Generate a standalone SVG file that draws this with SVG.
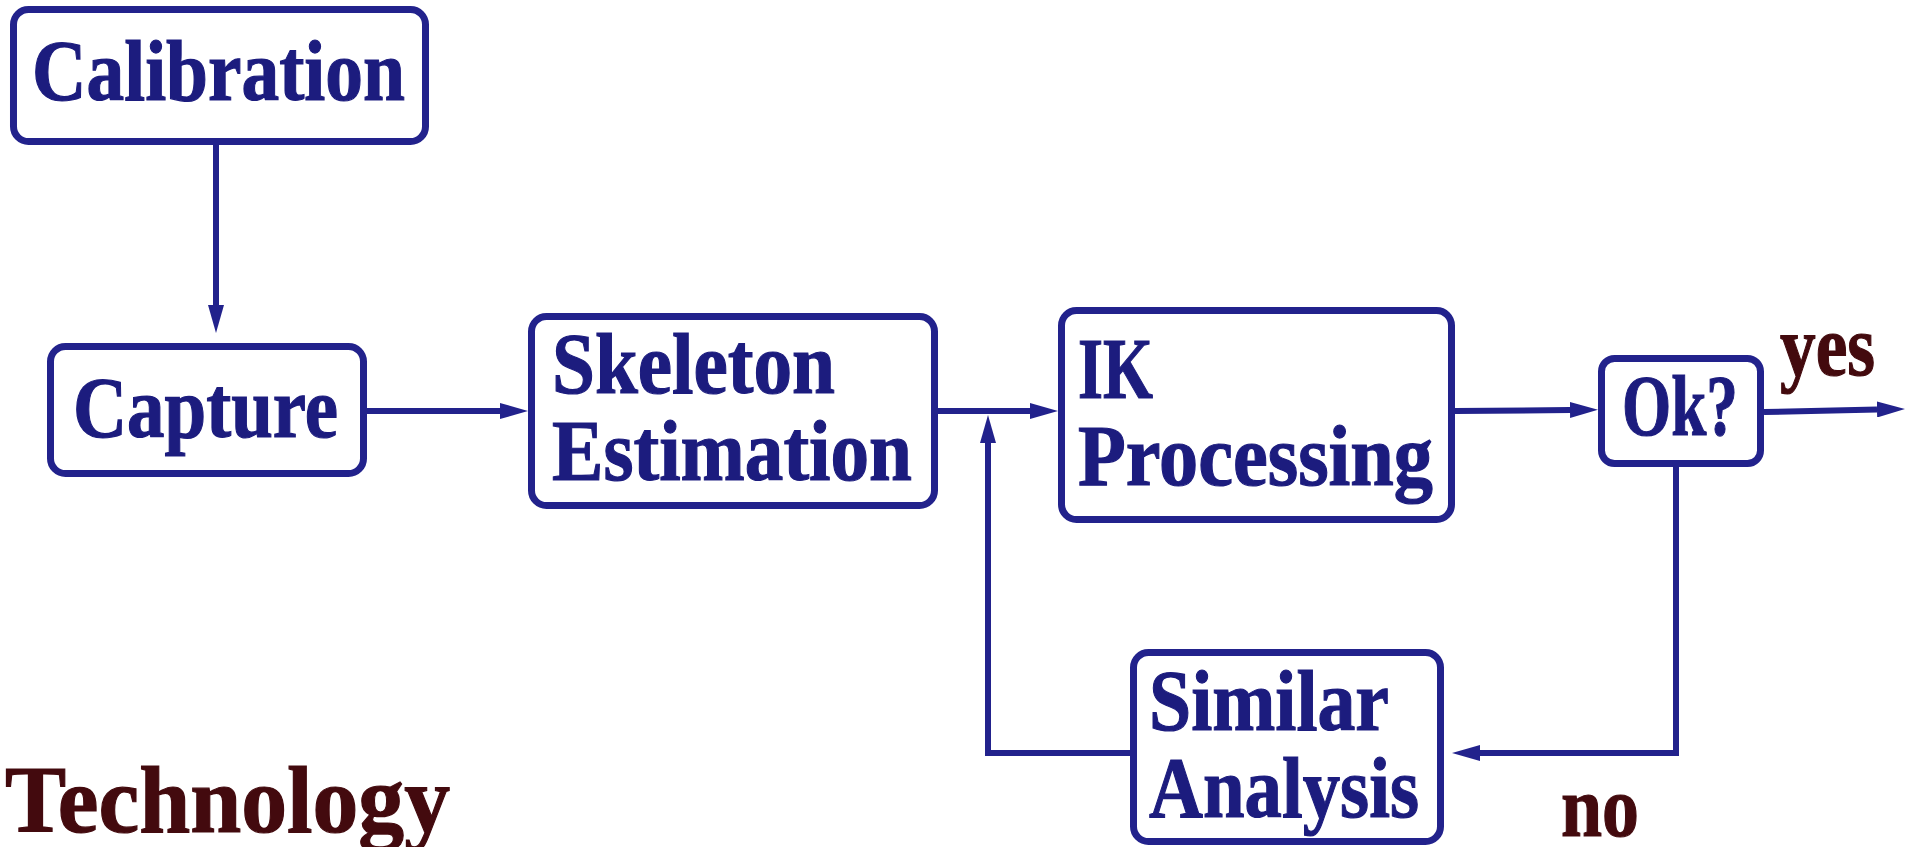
<svg xmlns="http://www.w3.org/2000/svg" width="1916" height="847" viewBox="0 0 1916 847">
<style>
.box{fill:#fff;stroke:#22228c;stroke-width:7}
.lbl{font-family:"Liberation Serif","Times New Roman",serif;font-weight:bold;font-size:86px;fill:#1c1c7e;stroke:#1c1c7e;stroke-width:1.2}
.note{font-family:"Liberation Serif","Times New Roman",serif;font-weight:bold;font-size:86px;fill:#430a0e;stroke:#430a0e;stroke-width:1.2}
.con{fill:none;stroke:#22228c;stroke-width:6}
</style>
<defs>
<marker id="ah" markerUnits="userSpaceOnUse" markerWidth="28" markerHeight="16" refX="0" refY="8" orient="auto" viewBox="0 0 28 16">
<path d="M0,0 L28,8 L0,16 z" fill="#22228c"/>
</marker>
</defs>
<rect width="1916" height="847" fill="#fff"/>
<g id="calibration">
<rect class="box" x="13.5" y="9.5" width="412" height="132" rx="15"/>
<text class="lbl" x="32" y="100" textLength="373" lengthAdjust="spacingAndGlyphs">Calibration</text>
</g>
<g id="capture">
<rect class="box" x="50.5" y="346.5" width="313" height="127" rx="15"/>
<text class="lbl" x="73" y="437" textLength="265" lengthAdjust="spacingAndGlyphs">Capture</text>
</g>
<g id="skeleton">
<rect class="box" x="531.5" y="316.5" width="403" height="189" rx="15"/>
<text class="lbl" x="552" y="393" textLength="283" lengthAdjust="spacingAndGlyphs">Skeleton</text>
<text class="lbl" x="552" y="480" textLength="360" lengthAdjust="spacingAndGlyphs">Estimation</text>
</g>
<g id="ik">
<rect class="box" x="1061.5" y="310.5" width="390" height="209" rx="15"/>
<text class="lbl" x="1078" y="398" textLength="75" lengthAdjust="spacingAndGlyphs">IK</text>
<text class="lbl" x="1078" y="485" textLength="355" lengthAdjust="spacingAndGlyphs">Processing</text>
</g>
<g id="ok">
<rect class="box" x="1601.5" y="358.5" width="159" height="105" rx="13"/>
<text class="lbl" x="1622" y="435" textLength="116" lengthAdjust="spacingAndGlyphs">Ok?</text>
</g>
<g id="similar">
<rect class="box" x="1133.5" y="652.5" width="307" height="189" rx="15"/>
<text class="lbl" x="1149" y="730" textLength="240" lengthAdjust="spacingAndGlyphs">Similar</text>
<text class="lbl" x="1149" y="817" textLength="270" lengthAdjust="spacingAndGlyphs">Analysis</text>
</g>
<g id="labels">
<text class="note" x="1780" y="375" textLength="95" lengthAdjust="spacingAndGlyphs">yes</text>
<text class="note" x="1561" y="836" textLength="78" lengthAdjust="spacingAndGlyphs">no</text>
<text class="note" x="5" y="832" textLength="445" lengthAdjust="spacingAndGlyphs" style="font-size:96px">Technology</text>
</g>
<g id="connectors">
<line class="con" x1="216" y1="145" x2="216" y2="305" marker-end="url(#ah)"/>
<line class="con" x1="367" y1="411" x2="500" y2="411" marker-end="url(#ah)"/>
<line class="con" x1="938" y1="411" x2="1030" y2="411" marker-end="url(#ah)"/>
<line class="con" x1="1455" y1="411" x2="1570" y2="410" marker-end="url(#ah)"/>
<line class="con" x1="1764" y1="412" x2="1877" y2="409.5" marker-end="url(#ah)"/>
<polyline class="con" points="1676,467 1676,753 1480,753" marker-end="url(#ah)"/>
<polyline class="con" points="1130,753 988,753 988,443" marker-end="url(#ah)"/>
</g>
</svg>
